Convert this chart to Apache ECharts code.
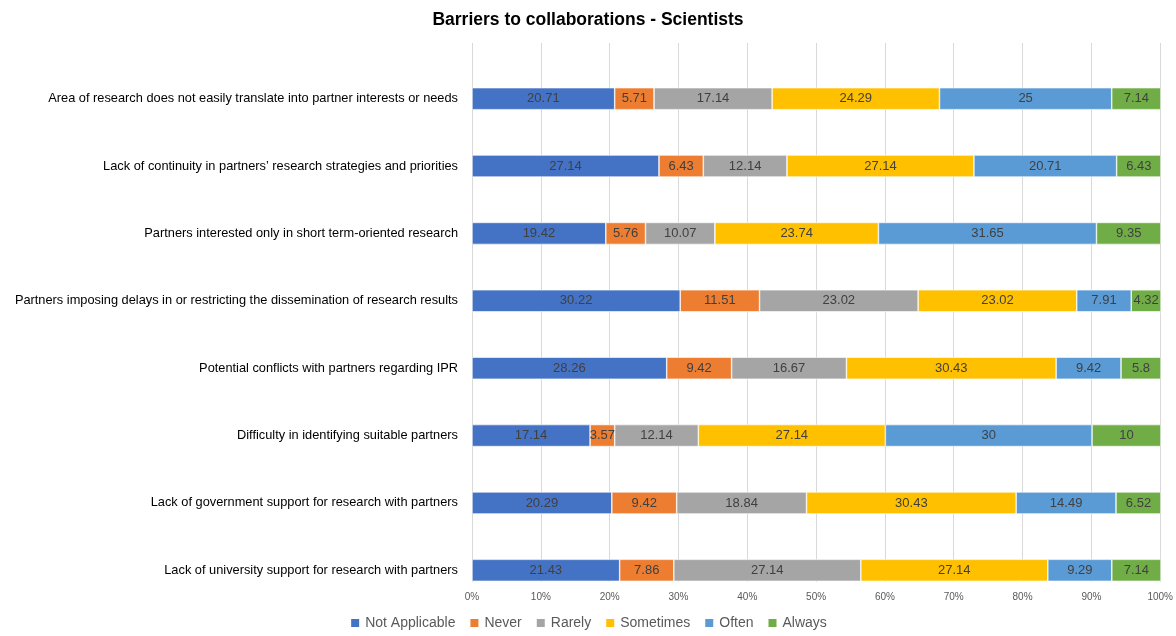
<!DOCTYPE html>
<html>
<head>
<meta charset="utf-8">
<script src="https://cdn.jsdelivr.net/npm/echarts@6/dist/echarts.min.js"></script>
<style>html,body{margin:0;padding:0;background:#fff}#c{width:1176px;height:636px}</style>
</head>
<body>
<div id="c"></div>
<script>
const categories = [
  "Area of research does not easily translate into partner interests or needs",
  "Lack of continuity in partners\u2019 research strategies and priorities",
  "Partners interested only in short term-oriented research",
  "Partners imposing delays in or restricting the dissemination of research results",
  "Potential conflicts with partners regarding IPR",
  "Difficulty in identifying suitable partners",
  "Lack of government support for research with partners",
  "Lack of university support for research with partners"
];
const seriesNames = ["Not Applicable", "Never", "Rarely", "Sometimes", "Often", "Always"];
const notApplicable = [20.71, 27.14, 19.42, 30.22, 28.26, 17.14, 20.29, 21.43];
const never =         [5.71, 6.43, 5.76, 11.51, 9.42, 3.57, 9.42, 7.86];
const rarely =        [17.14, 12.14, 10.07, 23.02, 16.67, 12.14, 18.84, 27.14];
const sometimes =     [24.29, 27.14, 23.74, 23.02, 30.43, 27.14, 30.43, 27.14];
const often =         [25, 20.71, 31.65, 7.91, 9.42, 30, 14.49, 9.29];
const always =        [7.14, 6.43, 9.35, 4.32, 5.8, 10, 6.52, 7.14];
const xTicks = [0, 10, 20, 30, 40, 50, 60, 70, 80, 90, 100];

const colors = ["#4472C4", "#ED7D31", "#A5A5A5", "#FFC000", "#5B9BD5", "#70AD47"];
const allData = [notApplicable, never, rarely, sometimes, often, always];
const font = "Liberation Sans";

const chart = echarts.init(document.getElementById('c'));
chart.setOption({
  animation: false,
  color: colors,
  title: {
    text: "Barriers to collaborations - Scientists",
    left: 'center', top: 6,
    textStyle: { fontFamily: font, fontSize: 17.5, fontWeight: 'bold', color: '#000' }
  },
  legend: {
    bottom: 1, left: 'center',
    itemWidth: 10, itemHeight: 10, itemGap: 13,
    icon: 'rect',
    textStyle: { fontFamily: font, fontSize: 14, color: '#595959' },
    data: seriesNames
  },
  grid: [
    { left: 472, right: 15, top: 43, bottom: 54 },
    { left: 472, right: 15, top: 65, bottom: 32 }
  ],
  xAxis: [
    { type: 'value', gridIndex: 0, min: xTicks[0], max: xTicks[xTicks.length-1], interval: 10,
      axisLine: { show: false }, axisTick: { show: false },
      splitLine: { lineStyle: { color: '#D9D9D9' } },
      axisLabel: { formatter: '{value}%', fontFamily: font, fontSize: 10, color: '#595959', margin: 10 } },
    { type: 'value', gridIndex: 1, min: 0, max: 100, show: false }
  ],
  yAxis: [
    { type: 'category', gridIndex: 0, data: categories, show: false },
    { type: 'category', gridIndex: 1, data: categories, inverse: true,
      axisLine: { show: false }, axisTick: { show: false }, splitLine: { show: false },
      axisLabel: { fontFamily: font, fontSize: 12.8, color: '#000', margin: 14 } }
  ],
  series: seriesNames.map((name, i) => ({
    name, type: 'bar', stack: 'total', xAxisIndex: 1, yAxisIndex: 1,
    barWidth: 22,
    data: allData[i],
    itemStyle: { color: colors[i], borderColor: '#fff', borderWidth: 0.6 },
    label: { show: true, position: 'inside', fontFamily: font, fontSize: 13, color: '#404040' }
  }))
});
</script>
</body>
</html>
